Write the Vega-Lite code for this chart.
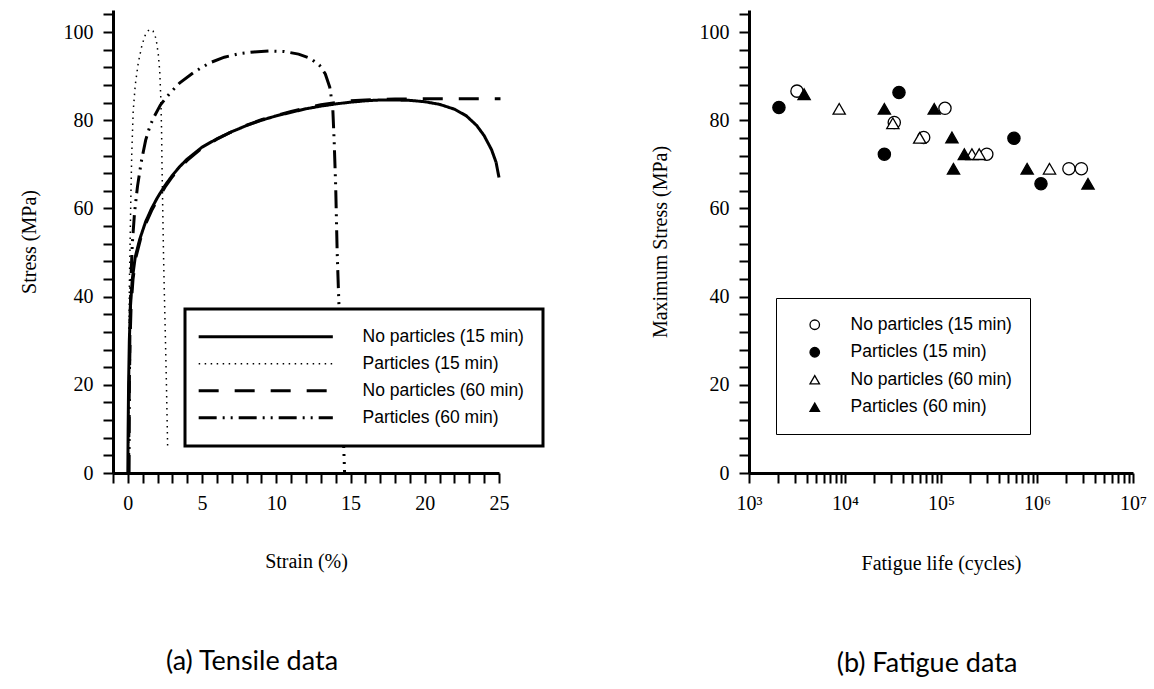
{
  "$schema": "https://vega.github.io/schema/vega-lite/v6.json",
  "padding": {"left": 19, "top": 4, "right": 0, "bottom": 0},
  "autosize": {"type": "pad"},
  "bounds": "flush",
  "spacing": 250,
  "background": "white",
  "resolve": {
    "scale": {"shape": "independent", "fill": "independent", "stroke": "independent", "strokeDash": "independent", "x": "independent", "y": "independent"},
    "legend": {"shape": "independent", "fill": "independent", "stroke": "independent", "strokeDash": "independent"}
  },
  "config": {
    "view": {"stroke": null},
    "axis": {
      "grid": false,
      "ticks": true,
      "domainColor": "black",
      "domainWidth": 3,
      "tickColor": "black",
      "labelColor": "black",
      "labelFont": "Liberation Serif",
      "labelFontSize": 20,
      "titleFont": "Liberation Serif",
      "titleFontSize": 20,
      "titleFontWeight": "normal",
      "titleColor": "black",
      "labelOverlap": false,
      "labelFlush": false,
      "labelBound": false
    },
    "title": {"font": "Lato", "fontSize": 27, "fontWeight": "normal", "color": "black"}
  },
  "datasets": {
    "tensile": [
      {"series": "No particles (15 min)", "i": 0, "strain": 0, "stress": 0},
      {"series": "No particles (15 min)", "i": 1, "strain": 0.02, "stress": 10},
      {"series": "No particles (15 min)", "i": 2, "strain": 0.05, "stress": 20},
      {"series": "No particles (15 min)", "i": 3, "strain": 0.1, "stress": 30},
      {"series": "No particles (15 min)", "i": 4, "strain": 0.18, "stress": 38},
      {"series": "No particles (15 min)", "i": 5, "strain": 0.3, "stress": 44},
      {"series": "No particles (15 min)", "i": 6, "strain": 0.5, "stress": 49},
      {"series": "No particles (15 min)", "i": 7, "strain": 0.8, "stress": 53},
      {"series": "No particles (15 min)", "i": 8, "strain": 1.2, "stress": 57},
      {"series": "No particles (15 min)", "i": 9, "strain": 1.6, "stress": 60},
      {"series": "No particles (15 min)", "i": 10, "strain": 2, "stress": 62.5},
      {"series": "No particles (15 min)", "i": 11, "strain": 2.5, "stress": 65.2},
      {"series": "No particles (15 min)", "i": 12, "strain": 3, "stress": 67.5},
      {"series": "No particles (15 min)", "i": 13, "strain": 3.5, "stress": 69.5},
      {"series": "No particles (15 min)", "i": 14, "strain": 4, "stress": 71.2},
      {"series": "No particles (15 min)", "i": 15, "strain": 5, "stress": 73.9},
      {"series": "No particles (15 min)", "i": 16, "strain": 6, "stress": 75.8},
      {"series": "No particles (15 min)", "i": 17, "strain": 7, "stress": 77.4},
      {"series": "No particles (15 min)", "i": 18, "strain": 8, "stress": 78.8},
      {"series": "No particles (15 min)", "i": 19, "strain": 9, "stress": 80},
      {"series": "No particles (15 min)", "i": 20, "strain": 10, "stress": 81},
      {"series": "No particles (15 min)", "i": 21, "strain": 11, "stress": 81.8},
      {"series": "No particles (15 min)", "i": 22, "strain": 12, "stress": 82.6},
      {"series": "No particles (15 min)", "i": 23, "strain": 13, "stress": 83.2},
      {"series": "No particles (15 min)", "i": 24, "strain": 14, "stress": 83.7},
      {"series": "No particles (15 min)", "i": 25, "strain": 15, "stress": 84.1},
      {"series": "No particles (15 min)", "i": 26, "strain": 16, "stress": 84.4},
      {"series": "No particles (15 min)", "i": 27, "strain": 17, "stress": 84.6},
      {"series": "No particles (15 min)", "i": 28, "strain": 18, "stress": 84.6},
      {"series": "No particles (15 min)", "i": 29, "strain": 19, "stress": 84.5},
      {"series": "No particles (15 min)", "i": 30, "strain": 20, "stress": 84.2},
      {"series": "No particles (15 min)", "i": 31, "strain": 21, "stress": 83.6},
      {"series": "No particles (15 min)", "i": 32, "strain": 22, "stress": 82.5},
      {"series": "No particles (15 min)", "i": 33, "strain": 22.8, "stress": 81},
      {"series": "No particles (15 min)", "i": 34, "strain": 23.5, "stress": 78.8},
      {"series": "No particles (15 min)", "i": 35, "strain": 24, "stress": 76.5},
      {"series": "No particles (15 min)", "i": 36, "strain": 24.5, "stress": 73.3},
      {"series": "No particles (15 min)", "i": 37, "strain": 24.8, "stress": 70.5},
      {"series": "No particles (15 min)", "i": 38, "strain": 25, "stress": 67},

      {"series": "Particles (15 min)", "i": 0, "strain": 0.05, "stress": 0},
      {"series": "Particles (15 min)", "i": 1, "strain": 0.06, "stress": 15},
      {"series": "Particles (15 min)", "i": 2, "strain": 0.08, "stress": 30},
      {"series": "Particles (15 min)", "i": 3, "strain": 0.1, "stress": 42},
      {"series": "Particles (15 min)", "i": 4, "strain": 0.15, "stress": 52},
      {"series": "Particles (15 min)", "i": 5, "strain": 0.2, "stress": 62},
      {"series": "Particles (15 min)", "i": 6, "strain": 0.26, "stress": 72},
      {"series": "Particles (15 min)", "i": 7, "strain": 0.36, "stress": 82},
      {"series": "Particles (15 min)", "i": 8, "strain": 0.5, "stress": 88},
      {"series": "Particles (15 min)", "i": 9, "strain": 0.7, "stress": 93},
      {"series": "Particles (15 min)", "i": 10, "strain": 0.95, "stress": 97},
      {"series": "Particles (15 min)", "i": 11, "strain": 1.2, "stress": 99.6},
      {"series": "Particles (15 min)", "i": 12, "strain": 1.45, "stress": 100.6},
      {"series": "Particles (15 min)", "i": 13, "strain": 1.7, "stress": 100.2},
      {"series": "Particles (15 min)", "i": 14, "strain": 1.9, "stress": 98.5},
      {"series": "Particles (15 min)", "i": 15, "strain": 2.05, "stress": 95},
      {"series": "Particles (15 min)", "i": 16, "strain": 2.15, "stress": 91},
      {"series": "Particles (15 min)", "i": 17, "strain": 2.22, "stress": 85},
      {"series": "Particles (15 min)", "i": 18, "strain": 2.27, "stress": 78},
      {"series": "Particles (15 min)", "i": 19, "strain": 2.3, "stress": 70},
      {"series": "Particles (15 min)", "i": 20, "strain": 2.35, "stress": 60},
      {"series": "Particles (15 min)", "i": 21, "strain": 2.4, "stress": 50},
      {"series": "Particles (15 min)", "i": 22, "strain": 2.45, "stress": 42},
      {"series": "Particles (15 min)", "i": 23, "strain": 2.52, "stress": 32},
      {"series": "Particles (15 min)", "i": 24, "strain": 2.6, "stress": 20},
      {"series": "Particles (15 min)", "i": 25, "strain": 2.68, "stress": 6},

      {"series": "No particles (60 min)", "i": 0, "strain": 0.05, "stress": 0},
      {"series": "No particles (60 min)", "i": 1, "strain": 0.07, "stress": 10},
      {"series": "No particles (60 min)", "i": 2, "strain": 0.1, "stress": 20},
      {"series": "No particles (60 min)", "i": 3, "strain": 0.15, "stress": 30},
      {"series": "No particles (60 min)", "i": 4, "strain": 0.22, "stress": 38},
      {"series": "No particles (60 min)", "i": 5, "strain": 0.35, "stress": 44},
      {"series": "No particles (60 min)", "i": 6, "strain": 0.55, "stress": 49},
      {"series": "No particles (60 min)", "i": 7, "strain": 0.85, "stress": 53},
      {"series": "No particles (60 min)", "i": 8, "strain": 1.2, "stress": 56.5},
      {"series": "No particles (60 min)", "i": 9, "strain": 1.6, "stress": 59.5},
      {"series": "No particles (60 min)", "i": 10, "strain": 2, "stress": 62},
      {"series": "No particles (60 min)", "i": 11, "strain": 2.5, "stress": 64.8},
      {"series": "No particles (60 min)", "i": 12, "strain": 3, "stress": 67.2},
      {"series": "No particles (60 min)", "i": 13, "strain": 3.5, "stress": 69.2},
      {"series": "No particles (60 min)", "i": 14, "strain": 4, "stress": 70.9},
      {"series": "No particles (60 min)", "i": 15, "strain": 5, "stress": 73.7},
      {"series": "No particles (60 min)", "i": 16, "strain": 6, "stress": 75.7},
      {"series": "No particles (60 min)", "i": 17, "strain": 7, "stress": 77.4},
      {"series": "No particles (60 min)", "i": 18, "strain": 8, "stress": 78.9},
      {"series": "No particles (60 min)", "i": 19, "strain": 9, "stress": 80.1},
      {"series": "No particles (60 min)", "i": 20, "strain": 10, "stress": 81.1},
      {"series": "No particles (60 min)", "i": 21, "strain": 11, "stress": 82},
      {"series": "No particles (60 min)", "i": 22, "strain": 12, "stress": 82.8},
      {"series": "No particles (60 min)", "i": 23, "strain": 13, "stress": 83.5},
      {"series": "No particles (60 min)", "i": 24, "strain": 14, "stress": 84},
      {"series": "No particles (60 min)", "i": 25, "strain": 15, "stress": 84.4},
      {"series": "No particles (60 min)", "i": 26, "strain": 16, "stress": 84.6},
      {"series": "No particles (60 min)", "i": 27, "strain": 18, "stress": 84.8},
      {"series": "No particles (60 min)", "i": 28, "strain": 20, "stress": 84.9},
      {"series": "No particles (60 min)", "i": 29, "strain": 22, "stress": 84.9},
      {"series": "No particles (60 min)", "i": 30, "strain": 24, "stress": 84.9},
      {"series": "No particles (60 min)", "i": 31, "strain": 25.1, "stress": 84.9},

      {"series": "Particles (60 min)", "i": 0, "strain": 0.08, "stress": 0},
      {"series": "Particles (60 min)", "i": 1, "strain": 0.1, "stress": 20},
      {"series": "Particles (60 min)", "i": 2, "strain": 0.15, "stress": 35},
      {"series": "Particles (60 min)", "i": 3, "strain": 0.22, "stress": 45},
      {"series": "Particles (60 min)", "i": 4, "strain": 0.3, "stress": 52},
      {"series": "Particles (60 min)", "i": 5, "strain": 0.45, "stress": 59},
      {"series": "Particles (60 min)", "i": 6, "strain": 0.65, "stress": 65},
      {"series": "Particles (60 min)", "i": 7, "strain": 0.9, "stress": 70.5},
      {"series": "Particles (60 min)", "i": 8, "strain": 1.2, "stress": 75.5},
      {"series": "Particles (60 min)", "i": 9, "strain": 1.5, "stress": 78.8},
      {"series": "Particles (60 min)", "i": 10, "strain": 1.8, "stress": 81},
      {"series": "Particles (60 min)", "i": 11, "strain": 2.2, "stress": 83.5},
      {"series": "Particles (60 min)", "i": 12, "strain": 2.8, "stress": 86},
      {"series": "Particles (60 min)", "i": 13, "strain": 3.5, "stress": 88.5},
      {"series": "Particles (60 min)", "i": 14, "strain": 4.5, "stress": 91},
      {"series": "Particles (60 min)", "i": 15, "strain": 5.5, "stress": 93},
      {"series": "Particles (60 min)", "i": 16, "strain": 6.5, "stress": 94.3},
      {"series": "Particles (60 min)", "i": 17, "strain": 7.5, "stress": 95.1},
      {"series": "Particles (60 min)", "i": 18, "strain": 8.5, "stress": 95.5},
      {"series": "Particles (60 min)", "i": 19, "strain": 9.5, "stress": 95.7},
      {"series": "Particles (60 min)", "i": 20, "strain": 10.5, "stress": 95.6},
      {"series": "Particles (60 min)", "i": 21, "strain": 11.5, "stress": 95},
      {"series": "Particles (60 min)", "i": 22, "strain": 12.3, "stress": 94},
      {"series": "Particles (60 min)", "i": 23, "strain": 12.9, "stress": 92.5},
      {"series": "Particles (60 min)", "i": 24, "strain": 13.3, "stress": 90.5},
      {"series": "Particles (60 min)", "i": 25, "strain": 13.6, "stress": 87.5},
      {"series": "Particles (60 min)", "i": 26, "strain": 13.8, "stress": 83},
      {"series": "Particles (60 min)", "i": 27, "strain": 13.9, "stress": 75},
      {"series": "Particles (60 min)", "i": 28, "strain": 14, "stress": 65},
      {"series": "Particles (60 min)", "i": 29, "strain": 14.1, "stress": 50},
      {"series": "Particles (60 min)", "i": 30, "strain": 14.2, "stress": 40},
      {"series": "Particles (60 min)", "i": 31, "strain": 14.35, "stress": 25},
      {"series": "Particles (60 min)", "i": 32, "strain": 14.5, "stress": 10},
      {"series": "Particles (60 min)", "i": 33, "strain": 14.6, "stress": 0}
    ],
    "fatigue": [
      {"series": "No particles (15 min)", "cycles": 3160, "stress": 86.6},
      {"series": "No particles (15 min)", "cycles": 32600, "stress": 79.5},
      {"series": "No particles (15 min)", "cycles": 66000, "stress": 76.1},
      {"series": "No particles (15 min)", "cycles": 110000, "stress": 82.7},
      {"series": "No particles (15 min)", "cycles": 300000, "stress": 72.3},
      {"series": "No particles (15 min)", "cycles": 2150000, "stress": 69},
      {"series": "No particles (15 min)", "cycles": 2900000, "stress": 69},
      {"series": "Particles (15 min)", "cycles": 2050, "stress": 82.9},
      {"series": "Particles (15 min)", "cycles": 36500, "stress": 86.3},
      {"series": "Particles (15 min)", "cycles": 25700, "stress": 72.3},
      {"series": "Particles (15 min)", "cycles": 575000, "stress": 75.9},
      {"series": "Particles (15 min)", "cycles": 1100000, "stress": 65.6},
      {"series": "No particles (60 min)", "cycles": 8700, "stress": 82.6},
      {"series": "No particles (60 min)", "cycles": 31500, "stress": 79.3},
      {"series": "No particles (60 min)", "cycles": 60000, "stress": 76},
      {"series": "No particles (60 min)", "cycles": 210000, "stress": 72.3},
      {"series": "No particles (60 min)", "cycles": 250000, "stress": 72.3},
      {"series": "No particles (60 min)", "cycles": 1350000, "stress": 69},
      {"series": "Particles (60 min)", "cycles": 3750, "stress": 85.9},
      {"series": "Particles (60 min)", "cycles": 25700, "stress": 82.6},
      {"series": "Particles (60 min)", "cycles": 85000, "stress": 82.6},
      {"series": "Particles (60 min)", "cycles": 130000, "stress": 76.1},
      {"series": "Particles (60 min)", "cycles": 175000, "stress": 72.3},
      {"series": "Particles (60 min)", "cycles": 135000, "stress": 69},
      {"series": "Particles (60 min)", "cycles": 790000, "stress": 69},
      {"series": "Particles (60 min)", "cycles": 3400000, "stress": 65.6}
    ]
  },
  "hconcat": [
    {
      "width": 386,
      "height": 463,
      "title": {"text": "(a) Tensile data", "orient": "bottom", "anchor": "middle", "frame": "group", "dx": -54, "offset": 78},
      "data": {"name": "tensile"},
      "mark": {"type": "line", "color": "black", "interpolate": "linear"},
      "encoding": {
        "x": {
          "field": "strain", "type": "quantitative",
          "scale": {"domain": [-1, 25], "nice": false, "zero": false},
          "axis": {
            "title": "Strain (%)",
            "ticks": true,
            "zindex": 1,
            "values": [-1, 0, 1, 2, 3, 4, 5, 6, 7, 8, 9, 10, 11, 12, 13, 14, 15, 16, 17, 18, 19, 20, 21, 22, 23, 24, 25],
            "labelExpr": "datum.value % 5 === 0 ? datum.label : ''",
            "tickSize": 10,
            "tickWidth": 2,
            "labelPadding": 10,
            "titlePadding": 38
          }
        },
        "y": {
          "field": "stress", "type": "quantitative",
          "scale": {"domain": [0, 105], "nice": false},
          "axis": {
            "title": "Stress (MPa)",
            "ticks": true,
            "zindex": 1,
            "values": [0, 4, 8, 12, 16, 20, 24, 28, 32, 36, 40, 44, 48, 52, 56, 60, 64, 68, 72, 76, 80, 84, 88, 92, 96, 100, 104],
            "labelExpr": "datum.value % 20 === 0 ? datum.label : ''",
            "tickSize": 10,
            "tickWidth": 2,
            "labelPadding": 10,
            "titlePadding": 24
          }
        },
        "strokeDash": {
          "field": "series", "type": "nominal",
          "scale": {
            "domain": ["No particles (15 min)", "Particles (15 min)", "No particles (60 min)", "Particles (60 min)"],
            "range": [[1, 0], [1.5, 4.5], [20, 16], [18, 6, 2, 6, 2, 6]]
          },
          "legend": {
            "title": null,
            "orient": "none",
            "legendX": 72,
            "legendY": 299,
            "padding": 19,
            "strokeColor": "black",
            "fillColor": "white",
            "symbolType": "M-6,0H6",
            "symbolSize": 500,
            "symbolStrokeColor": "black",
            "symbolStrokeWidth": 3,
            "symbolOffset": 53,
            "labelFont": "Liberation Sans",
            "labelFontSize": 17.5,
            "labelColor": "black",
            "labelOffset": 88,
            "labelLimit": 400,
            "rowPadding": 8,
            "encode": {
              "legend": {"update": {"strokeWidth": {"value": 3}}},
              "symbols": {"update": {"strokeWidth": {"signal": "datum.value === 'Particles (15 min)' ? 1.5 : 3"}}}
            }
          }
        },
        "strokeWidth": {"condition": {"test": "datum.series === 'Particles (15 min)'", "value": 1.5}, "value": 3},
        "order": {"field": "i", "type": "quantitative"}
      }
    },
    {
      "width": 384,
      "height": 463,
      "title": {"text": "(b) Fatigue data", "orient": "bottom", "anchor": "middle", "frame": "group", "dx": -14, "offset": 78},
      "data": {"name": "fatigue"},
      "mark": {"type": "point", "filled": false, "strokeWidth": 1.3, "size": 150, "opacity": 1},
      "encoding": {
        "x": {
          "field": "cycles", "type": "quantitative",
          "scale": {"type": "log", "domain": [1000, 10000000], "nice": false},
          "axis": {
            "title": "Fatigue life (cycles)",
            "ticks": true,
            "values": [1000, 2000, 3000, 4000, 5000, 6000, 7000, 8000, 9000, 10000, 20000, 30000, 40000, 50000, 60000, 70000, 80000, 90000, 100000, 200000, 300000, 400000, 500000, 600000, 700000, 800000, 900000, 1000000, 2000000, 3000000, 4000000, 5000000, 6000000, 7000000, 8000000, 9000000, 10000000],
            "labelExpr": "datum.value === 1000 ? '10³' : datum.value === 10000 ? '10⁴' : datum.value === 100000 ? '10⁵' : datum.value === 1000000 ? '10⁶' : datum.value === 10000000 ? '10⁷' : ''",
            "tickSize": 10,
            "tickWidth": 2,
            "labelPadding": 10,
            "titlePadding": 40
          }
        },
        "y": {
          "field": "stress", "type": "quantitative",
          "scale": {"domain": [0, 105], "nice": false},
          "axis": {
            "title": "Maximum Stress (MPa)",
            "ticks": true,
            "values": [0, 4, 8, 12, 16, 20, 24, 28, 32, 36, 40, 44, 48, 52, 56, 60, 64, 68, 72, 76, 80, 84, 88, 92, 96, 100, 104],
            "labelExpr": "datum.value % 20 === 0 ? datum.label : ''",
            "tickSize": 10,
            "tickWidth": 2,
            "labelPadding": 10,
            "titlePadding": 29
          }
        },
        "stroke": {
          "field": "series", "type": "nominal",
          "scale": {
            "domain": ["No particles (15 min)", "Particles (15 min)", "No particles (60 min)", "Particles (60 min)"],
            "range": ["black", "black", "black", "black"]
          },
          "legend": {
            "title": null,
            "orient": "none",
            "legendX": 27,
            "legendY": 288,
            "padding": 18,
            "strokeColor": "black",
            "fillColor": "white",
            "symbolSize": 90,
            "symbolStrokeWidth": 1.3,
            "symbolOffset": 12,
            "labelOffset": 27,
            "labelFont": "Liberation Sans",
            "labelFontSize": 17.5,
            "labelColor": "black",
            "labelLimit": 400,
            "rowPadding": 8.5,
            "encode": {"legend": {"update": {"strokeWidth": {"value": 3}}}}
          }
        },
        "shape": {
          "field": "series", "type": "nominal",
          "scale": {
            "domain": ["No particles (15 min)", "Particles (15 min)", "No particles (60 min)", "Particles (60 min)"],
            "range": ["circle", "circle", "triangle-up", "triangle-up"]
          },
          "legend": {
            "title": null,
            "orient": "none",
            "legendX": 27,
            "legendY": 288,
            "padding": 18,
            "strokeColor": "black",
            "fillColor": "white",
            "symbolSize": 90,
            "symbolStrokeWidth": 1.3,
            "symbolOffset": 12,
            "labelOffset": 27,
            "labelFont": "Liberation Sans",
            "labelFontSize": 17.5,
            "labelColor": "black",
            "labelLimit": 400,
            "rowPadding": 8.5,
            "encode": {"legend": {"update": {"strokeWidth": {"value": 3}}}}
          }
        },
        "fill": {
          "field": "series", "type": "nominal",
          "scale": {
            "domain": ["No particles (15 min)", "Particles (15 min)", "No particles (60 min)", "Particles (60 min)"],
            "range": ["white", "black", "white", "black"]
          },
          "legend": {
            "title": null,
            "orient": "none",
            "legendX": 27,
            "legendY": 288,
            "padding": 18,
            "strokeColor": "black",
            "fillColor": "white",
            "symbolSize": 90,
            "symbolStrokeWidth": 1.3,
            "symbolOffset": 12,
            "labelOffset": 27,
            "labelFont": "Liberation Sans",
            "labelFontSize": 17.5,
            "labelColor": "black",
            "labelLimit": 400,
            "rowPadding": 8.5,
            "encode": {"legend": {"update": {"strokeWidth": {"value": 3}}}}
          }
        }
      }
    }
  ]
}
